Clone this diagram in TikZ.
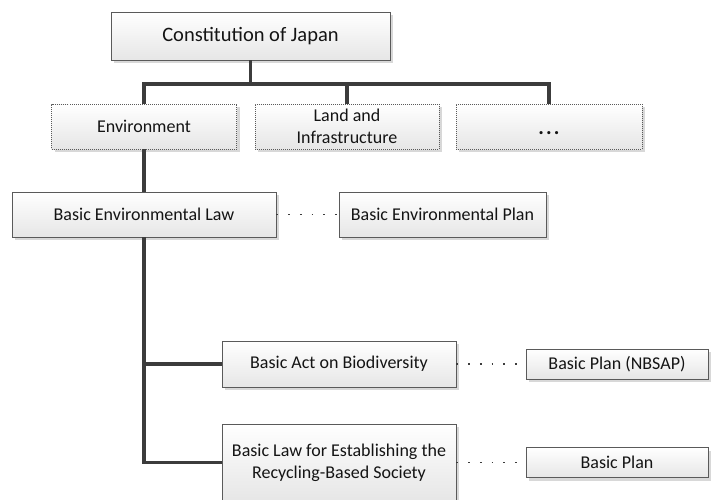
\documentclass[tikz,border=0pt]{standalone}
\usepackage{fontspec}
\setmainfont{Carlito}
\usetikzlibrary{shadows}
\definecolor{txt}{HTML}{141414}
\definecolor{bord}{HTML}{5A5A5A}
\definecolor{conncol}{HTML}{3C3C3C}
\definecolor{shad}{HTML}{D8D8D8}
\definecolor{boxbot}{HTML}{E6E6E6}
\tikzset{
  boxbase/.style={rectangle, draw=bord, line width=0.9pt, top color=white, bottom color=boxbot,
    text=txt, align=center, inner sep=0pt, font=\fontsize{18}{22}\selectfont,
    drop shadow={shadow xshift=3pt, shadow yshift=-3pt, fill=shad, opacity=1}},
  solidbox/.style={boxbase},
  dotbox/.style={boxbase, dash pattern=on 1pt off 1pt},
  conn/.style={draw=conncol, line width=3.3pt},
  planlink/.style={draw=conncol, line width=1.7pt, dash pattern=on 1.7pt off 10pt},
}
\begin{document}
\begin{tikzpicture}[x=1pt, y=-1pt]
\useasboundingbox (0,0) rectangle (711,499);
% boxes
\node[solidbox, minimum width=279pt, minimum height=48pt, font=\fontsize{20.5}{24}\selectfont] (const) at (250.5,36) {Constitution of Japan};
\node[dotbox, minimum width=185pt, minimum height=45pt] (env) at (144,126.5) {Environment};
\node[dotbox, minimum width=184pt, minimum height=45pt] (land) at (347,126.5) {Land and\\Infrastructure};
\node[dotbox, minimum width=186pt, minimum height=45pt] (more) at (549,126.5) {\raisebox{-8pt}[0pt][0pt]{\fontsize{21}{24}\selectfont\textbf{.\kern2.2pt.\kern2.2pt.}}};
\node[solidbox, minimum width=264pt, minimum height=45pt] (bel) at (144,214.5) {Basic Environmental Law};
\node[solidbox, minimum width=207pt, minimum height=45pt] (bep) at (442.5,214.5) {Basic Environmental Plan};
\node[solidbox, minimum width=234pt, minimum height=46pt] (bab) at (339,364) {Basic Act on Biodiversity};
\node[solidbox, minimum width=182pt, minimum height=30pt] (nbsap) at (617,364) {Basic Plan (NBSAP)};
\node[solidbox, minimum width=234pt, minimum height=77pt] (ble) at (339,462.5) {Basic Law for Establishing the\\Recycling-Based Society};
\node[solidbox, minimum width=182pt, minimum height=30pt] (bp) at (617,462.5) {Basic Plan};
% tree connectors
\coordinate (bus) at (250.5,84);
\draw[conn] (const.south) -- (bus);
\draw[conn] (bus) -| (env.north);
\draw[conn] (bus) -| (land.north);
\draw[conn] (bus) -| (more.north);
\draw[conn] (env.south) -- (bel.north);
\draw[conn] (bel.south) |- (bab.west);
\draw[conn] (bel.south) |- (ble.west);
% plan links
\draw[planlink] (bel.east) -- (bep.west);
\draw[planlink] (bab.east) -- (nbsap.west);
\draw[planlink] (ble.east) -- (bp.west);
\end{tikzpicture}
\end{document}
